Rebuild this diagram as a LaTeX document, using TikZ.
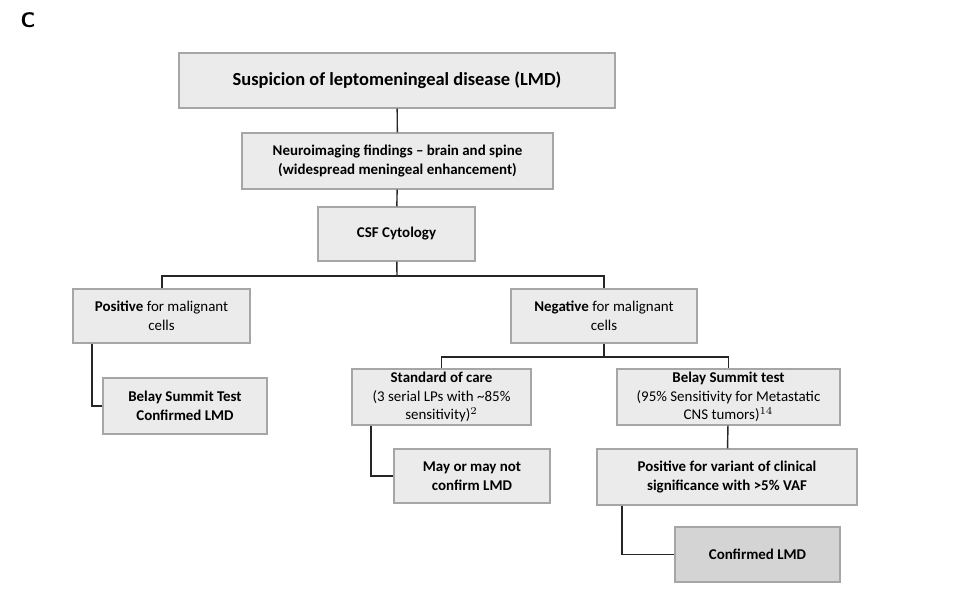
\documentclass[tikz,border=0pt]{standalone}
\usepackage{fontspec}
\setmainfont{Carlito}
\usepackage{xcolor}
\usetikzlibrary{positioning}
\definecolor{boxfill}{HTML}{EBEBEB}
\definecolor{boxdark}{HTML}{D4D4D4}
\definecolor{boxline}{HTML}{A6A6A6}
\begin{document}
\begin{tikzpicture}[x=0.02cm, y=-0.02cm, semithick]
    \tikzstyle{flowbox}=[draw=boxline, fill=boxfill, align=center, inner sep=0pt, font=\fontsize{8.5}{10.5}\selectfont]
    \tikzstyle{boldbox}=[flowbox, font=\fontsize{8.5}{10.5}\selectfont\bfseries]
    \tikzstyle{link}=[draw=black!85, thick]
    \useasboundingbox (0,0) rectangle (960,604);

    \node[font=\sffamily\bfseries\large] (lbl) at (28,20) {C};

    \node[flowbox, minimum width=436*0.02cm, minimum height=55*0.02cm, font=\fontsize{10.5}{12}\selectfont\bfseries] (susp) at (397,80.5) {Suspicion of leptomeningeal disease (LMD)};
    \node[boldbox, minimum width=311*0.02cm, minimum height=56*0.02cm] (neuro) at (397.5,161) {Neuroimaging findings -- brain and spine\\(widespread meningeal enhancement)};
    \node[boldbox, minimum width=157*0.02cm, minimum height=54*0.02cm] (csf) at (396.5,234) {CSF Cytology};
    \node[flowbox, minimum width=177*0.02cm, minimum height=54*0.02cm] (pos) at (161.5,316) {\textbf{Positive} for malignant\\cells};
    \node[flowbox, minimum width=186*0.02cm, minimum height=54*0.02cm] (neg) at (604,316) {\textbf{Negative} for malignant\\cells};
    \node[boldbox, minimum width=164*0.02cm, minimum height=56*0.02cm] (belay) at (185,406) {Belay Summit Test\\Confirmed LMD};
    \node[flowbox, minimum width=179*0.02cm, minimum height=56*0.02cm] (soc) at (441.5,397) {\textbf{Standard of care}\\(3 serial LPs with \textasciitilde85\%\\sensitivity)$^{2}$};
    \node[flowbox, minimum width=223*0.02cm, minimum height=56*0.02cm] (bst) at (728.5,397) {\textbf{Belay Summit test}\\(95\% Sensitivity for Metastatic\\CNS tumors)$^{14}$};
    \node[boldbox, minimum width=156*0.02cm, minimum height=54*0.02cm] (may) at (472,476) {May or may not\\confirm LMD};
    \node[boldbox, minimum width=260*0.02cm, minimum height=56*0.02cm] (var) at (727,477) {Positive for variant of clinical\\significance with >5\% VAF};
    \node[boldbox, fill=boxdark, minimum width=165*0.02cm, minimum height=55*0.02cm] (conf) at (757.5,554.5) {Confirmed LMD};

    \coordinate (split1) at (397,276);
    \coordinate (split2) at (604,357);

    \path[link] (susp) -- (neuro);
    \path[link] (neuro) -- (csf);
    \path[link] (csf) -- (split1);
    \path[link] (pos.north -| 162,0) |- (split1) -| (neg.north);
    \path[link] (neg) -- (split2);
    \path[link] (soc.north) |- (split2) -| (bst.north);
    \path[link] (pos.south -| 92,0) |- (belay.west);
    \path[link] (soc.south -| 371,0) |- (may.west);
    \path[link] (bst) -- (var);
    \path[link] (var.south -| 622,0) |- (conf.west);
\end{tikzpicture}
\end{document}
